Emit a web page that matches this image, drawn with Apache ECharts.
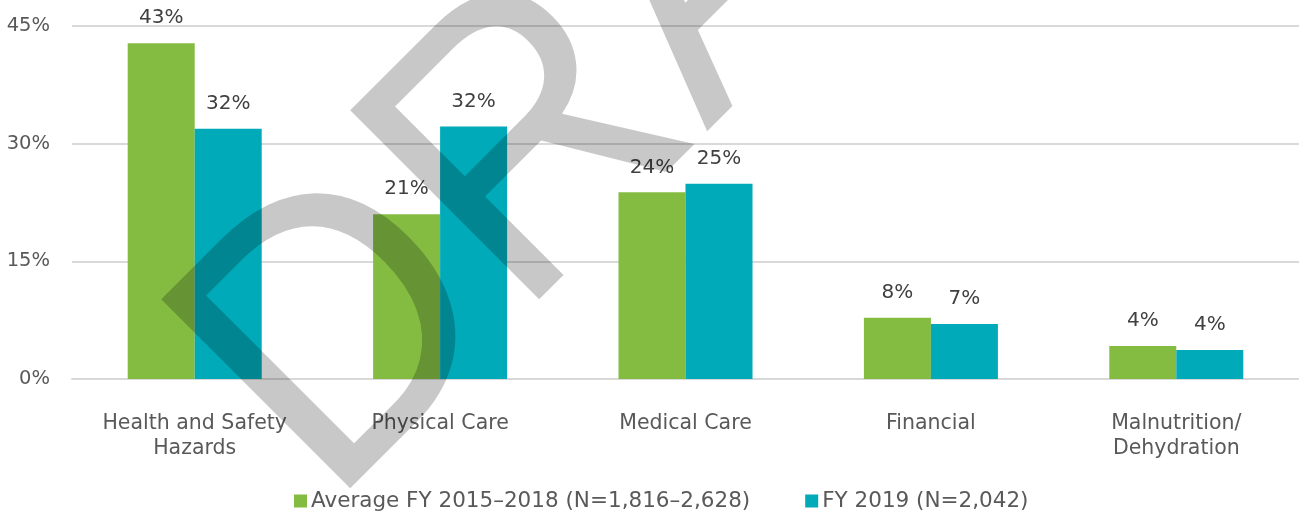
<!DOCTYPE html>
<html>
<head>
<meta charset="utf-8">
<script src="https://cdn.jsdelivr.net/npm/echarts@6/dist/echarts.min.js"></script>
<style>
html,body{margin:0;padding:0;background:#fff;}
#chart{width:1299px;height:512px;}
</style>
</head>
<body>
<div id="chart"></div>
<script>
const categories = ['Health and Safety\nHazards', 'Physical Care', 'Medical Care', 'Financial', 'Malnutrition/\nDehydration'];
const seriesNames = ['Average FY 2015\u20132018 (N=1,816\u20132,628)', 'FY 2019 (N=2,042)'];
const avgValues = [42.8, 21.0, 23.8, 7.8, 4.2];
const fy2019Values = [31.9, 32.2, 24.9, 7.0, 3.7];
const yTicks = [0, 15, 30, 45];
const watermarkText = 'DRAFT';

const FONT = '"DejaVu Sans", sans-serif';
const chart = echarts.init(document.getElementById('chart'), null, {renderer: 'canvas'});

const labelOpt = {
  show: true,
  position: 'top',
  distance: 15,
  color: '#404040',
  fontFamily: FONT,
  fontSize: 20,
  formatter: p => Math.round(p.value) + '%'
};

chart.setOption({
  animation: false,
  backgroundColor: '#ffffff',
  grid: {left: 72, top: 26, width: 1230, bottom: 133, containLabel: false},
  legend: {
    data: seriesNames,
    left: 289,
    top: 485,
    itemWidth: 13,
    itemHeight: 13,
    itemGap: 55,
    icon: 'rect',
    textStyle: {color: '#595959', fontFamily: FONT, fontSize: 21.5, padding: [0, 0, 0, -1]}
  },
  xAxis: {
    type: 'category',
    data: categories,
    axisTick: {show: false},
    axisLine: {show: true, lineStyle: {color: '#d9d9d9', width: 2}},
    axisLabel: {color: '#595959', fontFamily: FONT, fontSize: 20.5, lineHeight: 25, margin: 32, interval: 0}
  },
  yAxis: {
    type: 'value',
    min: yTicks[0],
    max: yTicks[yTicks.length - 1],
    interval: yTicks[1] - yTicks[0],
    axisLine: {show: false},
    axisTick: {show: false},
    splitLine: {lineStyle: {color: '#d9d9d9', width: 2}},
    axisLabel: {color: '#595959', fontFamily: FONT, fontSize: 19.5, margin: 22, formatter: '{value}%'}
  },
  series: [
    {
      name: seriesNames[0],
      type: 'bar',
      data: avgValues,
      barWidth: 67,
      barGap: '0%',
      itemStyle: {color: '#83bc41'},
      label: labelOpt
    },
    {
      name: seriesNames[1],
      type: 'bar',
      data: fy2019Values,
      barWidth: 67,
      barGap: '0%',
      itemStyle: {color: '#00aab9'},
      label: labelOpt
    }
  ],
  graphic: [{
    type: 'text',
    x: 253,
    y: 434,
    rotation: Math.PI / 4,
    scaleX: 1,
    scaleY: 1.05,
    z: 100,
    silent: true,
    style: {
      text: watermarkText,
      font: '370px "Liberation Sans"',
      fill: 'rgba(0,0,0,0.215)',
      textAlign: 'left',
      textVerticalAlign: 'middle',
      align: 'left',
      verticalAlign: 'middle'
    }
  }]
});
</script>
</body>
</html>
